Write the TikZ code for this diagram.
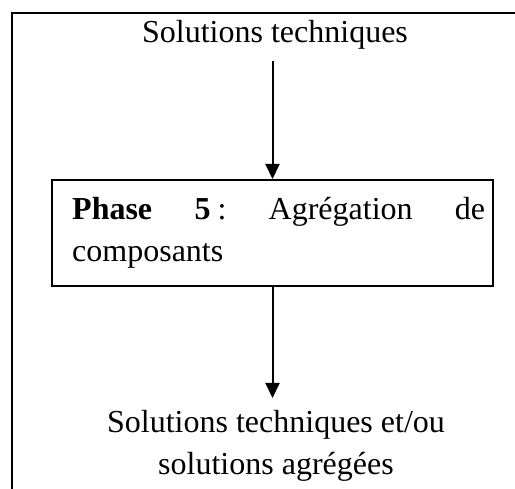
\documentclass[tikz,border=0pt]{standalone}
\usepackage{fontspec}
\setmainfont{Liberation Serif}
\usetikzlibrary{arrows.meta}
\begin{document}
\begin{tikzpicture}[x=1pt,y=-1pt,
  txt/.style={inner sep=0pt, font=\fontsize{32}{42}\selectfont},
  frameline/.style={line width=2.4pt},
  phasebox/.style={draw, line width=2pt, minimum width=441pt, minimum height=106pt, inner sep=0pt},
  flow/.style={line width=2pt, -{Triangle[length=15pt,width=14pt]}}]
\useasboundingbox (0,0) rectangle (515,489);
\draw[frameline] (516,13) -- (12,13) -- (12,490);
\node[txt, anchor=base] (top) at (275,43) {Solutions techniques};
\node[phasebox] (box) at (272.5,233) {};
\node[txt, anchor=base west] (boxtext) at (72,220) {\parbox[t]{413pt}{\textbf{Phase}\hfill\textbf{5}\hspace{7pt}:\hfill Agrégation\hfill de\\composants}};
\node[txt, anchor=base] (bottom) at (276,433) {\parbox[t]{450pt}{\centering Solutions techniques et/ou\\solutions agrégées}};
\coordinate (s1) at (272.5,61);
\coordinate (e2) at (272.5,398);
\draw[flow] (s1) -- (box.north);
\draw[flow] (box.south) -- (e2);
\end{tikzpicture}
\end{document}
